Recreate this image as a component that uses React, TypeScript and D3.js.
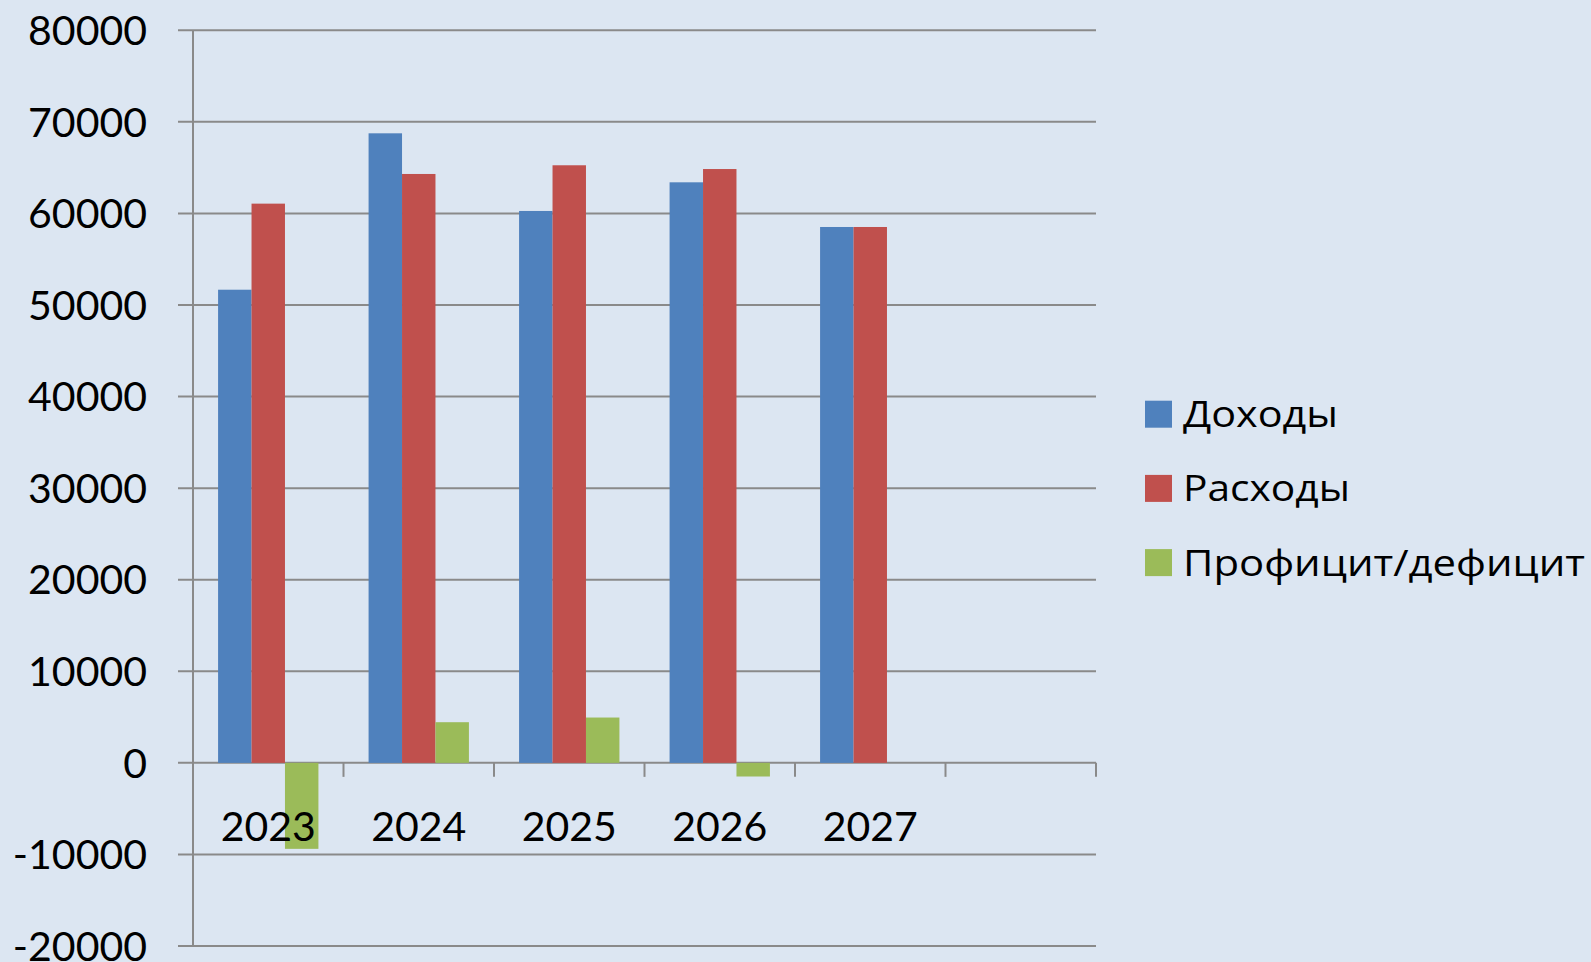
import React from "react";
import * as d3 from "d3";

const categories = ["2023", "2024", "2025", "2026", "2027", ""];
const seriesNames = ["Доходы", "Расходы", "Профицит/дефицит"];
const incomes = [51670, 68750, 60270, 63400, 58520, null];
const expenses = [61070, 64310, 65260, 64850, 58520, null];
const balance = [-9390, 4440, 4950, -1490, null, null];
const yTicks = [-20000, -10000, 0, 10000, 20000, 30000, 40000, 50000, 60000, 70000, 80000];
const colors = ["#4F81BD", "#C0504D", "#9BBB59"];
const legendWidths = [155, 167, 402];

const W = 1591;
const H = 962;
const FONT = "Lato, 'Noto Sans', sans-serif";
const LEGEND_FONT = "'Open Sans', 'Noto Sans', sans-serif";

export default function App() {
  const x = d3.scaleBand<string>().domain(categories.map((c, i) => String(i))).range([193, 1096]).padding(0);
  const y = d3.scaleLinear().domain([-20000, 80000]).range([946, 30.3]);
  const inner = d3
    .scaleBand<string>()
    .domain(seriesNames)
    .range([0, x.bandwidth()])
    .paddingInner(0)
    .paddingOuter(0.75);
  const values = [incomes, expenses, balance];
  const grid = "#8A8A8A";
  const y0 = y(0);

  return (
    <div style={{ position: "fixed", left: 0, top: 0 }}>
      <svg width={W} height={H} style={{ display: "block", background: "#DCE6F2" }}>
        <rect x={0} y={0} width={W} height={H} fill="#DCE6F2" />
        {yTicks.map((t) => (
          <line key={"g" + t} x1={178} x2={1096} y1={y(t)} y2={y(t)} stroke={grid} strokeWidth={2} />
        ))}
        <line x1={193} x2={193} y1={y(80000)} y2={y(-20000)} stroke={grid} strokeWidth={2} />
        {categories.map((c, i) => (
          <line
            key={"xt" + i}
            x1={(x(String(i)) as number) + x.bandwidth()}
            x2={(x(String(i)) as number) + x.bandwidth()}
            y1={y0}
            y2={y0 + 14}
            stroke={grid}
            strokeWidth={2}
          />
        ))}
        {seriesNames.map((s, si) =>
          values[si].map((v, i) =>
            v == null ? null : (
              <rect
                key={s + i}
                x={(x(String(i)) as number) + (inner(s) as number)}
                width={inner.bandwidth()}
                y={Math.min(y(v), y0)}
                height={Math.abs(y(v) - y0)}
                fill={colors[si]}
              />
            )
          )
        )}
        {yTicks.map((t) => (
          <text
            key={"yl" + t}
            x={147}
            y={y(t)}
            dy="0.36em"
            textAnchor="end"
            fontFamily={FONT}
            fontSize={41}
            fill="#000"
          >
            {String(t)}
          </text>
        ))}
        {categories.map((c, i) => (
          <text
            key={"xl" + i}
            x={(x(String(i)) as number) + x.bandwidth() / 2}
            y={841}
            textAnchor="middle"
            fontFamily={FONT}
            fontSize={41}
            fill="#000"
          >
            {c}
          </text>
        ))}
        {seriesNames.map((s, si) => (
          <g key={"lg" + s} transform={`translate(1145, ${400.7 + si * 74.2})`}>
            <rect x={0} y={0} width={27} height={27} fill={colors[si]} />
            <text
              x={38}
              y={26.5}
              fontFamily={LEGEND_FONT}
              fontSize={37}
              fill="#000"
              textLength={legendWidths[si]}
              lengthAdjust="spacingAndGlyphs"
            >
              {s}
            </text>
          </g>
        ))}
      </svg>
    </div>
  );
}
